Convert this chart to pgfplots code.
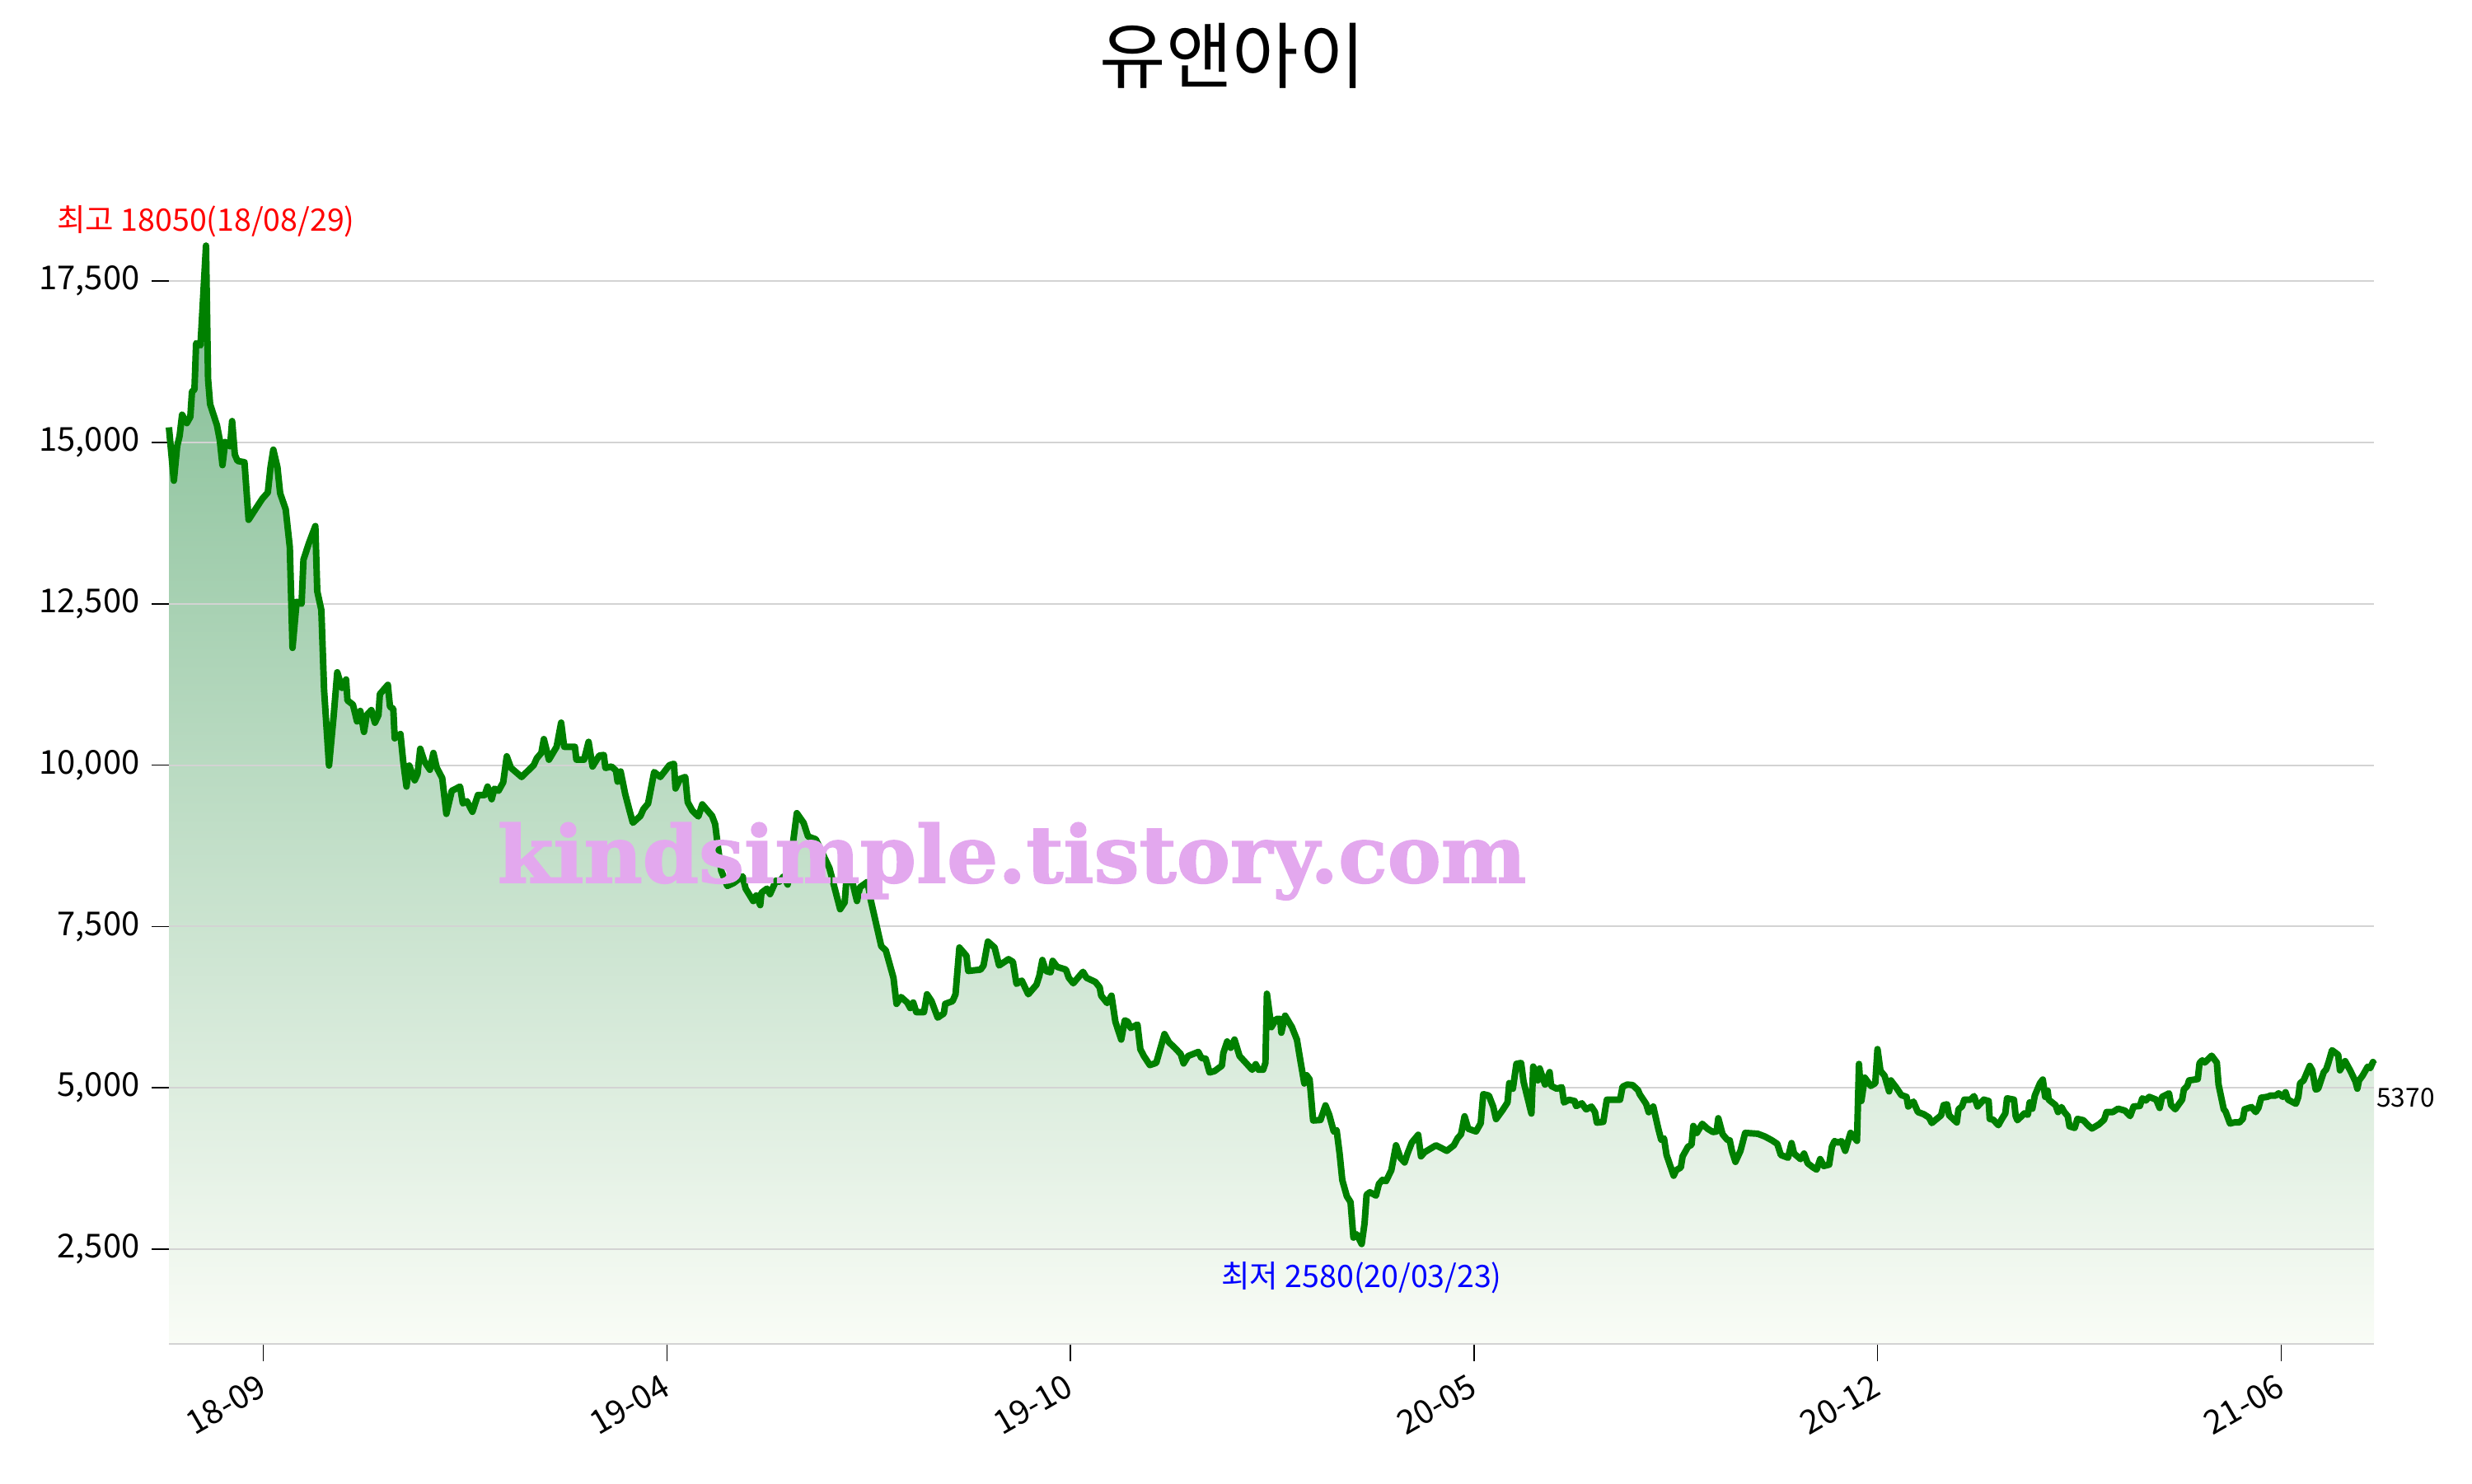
\documentclass[border=0pt]{standalone}
\usepackage{pgfplots}
\pgfplotsset{compat=1.18}
\usepackage{pgfplotstable}
\usepackage{fontspec}
\setmainfont{Noto Sans CJK KR}
\newfontfamily\wmfont[FakeBold=1.6]{DejaVu Serif Bold}
\definecolor{lg}{RGB}{0,128,0}
\definecolor{gridc}{RGB}{211,211,211}
\definecolor{wm}{RGB}{227,168,238}
\definecolor{ftop}{RGB}{128,188,146}
\definecolor{fbot}{RGB}{249,252,246}
\pgfplotstableread{
x y
205 15235
211 14408
215 14942
218 15104
221 15430
226.7 15300
231 15397
233 15788
236 15820
238 16537
243.3 16504
250 18050
252.5 15983
255 15593
263.3 15267
266.7 15039
270 14649
273.3 15007
279.3 14942
281.7 15332
285 14811
288.3 14714
296.7 14694
301.7 13802
308.3 13933
318.3 14128
325 14225
328.3 14616
331.7 14889
336.7 14616
340 14213
346.7 13965
351.7 13379
355 11817
360 12533
366 12500
368.3 13184
375 13444
382.7 13705
385 12696
390 12403
393.3 11166
399.3 9994
405 10775
409.3 11439
415 11198
420 11328
421.7 11003
428.3 10938
433.3 10678
437.3 10840
441.7 10515
445 10775
450.7 10853
455 10658
459.3 10775
461 11101
470.7 11244
473.3 10905
477.3 10873
479 10417
486 10482
489.3 10059
493.3 9668
496.7 9994
503.3 9766
506.7 9864
510 10254
515 10059
521.7 9929
526 10189
530 9962
536.7 9799
541.7 9245
548.3 9603
558.3 9668
561.7 9408
566.7 9441
573.3 9278
580 9538
588.3 9538
591.7 9668
596.7 9473
600 9636
605 9603
610.7 9734
615 10137
620 9960
633 9817
647.7 10000
651.4 10106
657 10191
660 10404
666.2 10085
675.5 10285
681 10659
684.7 10285
697.7 10285
699.5 10085
708.8 10085
714.3 10361
719.1 9979
727.3 10149
732.8 10157
734.7 9957
742.1 9979
747.6 9915
749.5 9745
753.2 9902
758.7 9554
763.5 9320
768 9107
777.2 9213
780.9 9320
786.5 9405
793.9 9894
801.3 9817
812.4 10000
817.9 10021
819.8 9639
825.3 9787
831.6 9817
834.6 9426
840.1 9298
847.5 9205
852.3 9392
864.2 9213
867.9 9086
871.6 8703
875.3 8363
882.7 8129
890.1 8172
901.2 8278
904.9 8087
914.1 7895
917.8 7980
922.6 7831
924.1 8023
930.8 8087
934.5 8002
941.9 8214
945.6 8193
951.1 8278
955.9 8150
967 9256
975.2 9107
980.7 8894
990 8852
1006.6 8405
1019.6 7768
1025.1 7874
1027 8193
1034.3 8193
1040 7895
1043.6 8108
1052.9 8193
1056.6 7917
1069.5 7194
1075 7130
1084.3 6705
1088 6301
1093.5 6407
1101 6322
1104.7 6237
1108.3 6322
1112 6173
1121.3 6173
1125 6450
1130.5 6343
1138 6088
1145.4 6152
1147.1 6301
1156 6343
1159.6 6450
1164.3 7173
1172.9 7045
1175 6811
1190 6832
1193.6 6896
1198.9 7266
1207.1 7173
1212.5 6896
1223.9 6994
1229.3 6951
1233.6 6611
1240 6662
1247.9 6450
1257.9 6599
1261.4 6739
1265 6981
1269.3 6811
1275 6790
1277.5 6968
1282.9 6875
1293.6 6832
1297.1 6705
1302.5 6620
1314.3 6798
1318.6 6705
1329.3 6641
1334.6 6556
1336.4 6428
1343.6 6314
1348.9 6428
1353.6 6025
1360.7 5748
1365 6046
1368.6 6025
1372.1 5927
1380.4 5982
1383.9 5599
1388.2 5493
1395.4 5353
1403.2 5387
1413.2 5833
1418.6 5706
1425.7 5621
1432.9 5523
1436.4 5378
1441.8 5493
1454.3 5557
1457.9 5463
1463.2 5451
1467.9 5238
1473.9 5259
1482.9 5344
1484.6 5540
1489.3 5718
1493.6 5621
1498.2 5748
1504.3 5493
1511.4 5395
1519.6 5280
1523.9 5366
1527.5 5280
1532.9 5280
1535.7 5387
1537.5 6458
1542.9 5940
1548.9 6067
1553.6 6067
1555 5854
1559.6 6118
1567.9 5940
1573.9 5748
1578.6 5387
1582.9 5068
1585.7 5195
1589.3 5132
1593.6 4494
1602.5 4502
1608.6 4728
1613.2 4579
1618.6 4324
1622.1 4345
1625.7 3984
1629 3570
1634.5 3320
1639 3230
1642.5 2680
1646.5 2730
1652.5 2580
1656 2900
1658.5 3345
1662.5 3382
1669.9 3330
1673.4 3510
1677.7 3574
1682 3553
1688.5 3724
1694.2 4110
1699.4 3917
1704.6 3844
1708.1 3981
1713.3 4152
1721.1 4272
1724.5 3938
1728.9 4003
1742.7 4110
1755.8 4024
1764.4 4110
1768.8 4217
1773.1 4281
1777.4 4559
1781.8 4366
1791.3 4324
1797 4452
1800 4902
1806.9 4880
1812.1 4709
1815.6 4516
1823 4645
1829.5 4773
1831.6 5073
1836 4987
1840.3 5372
1846 5385
1849 5094
1858.5 4602
1860.7 5330
1866.3 5116
1868.5 5300
1875 5051
1880.6 5244
1882.4 5030
1889.3 4987
1895.4 5009
1898 4773
1904.1 4816
1911 4795
1912.7 4717
1919.7 4760
1924.9 4666
1931.4 4709
1935.7 4623
1937.9 4461
1945.7 4473
1950 4816
1966.1 4816
1969.1 5017
1974.8 5051
1981.3 5043
1987.8 4966
1989.9 4902
1997.7 4752
2000.8 4623
2006.4 4709
2012.5 4366
2016 4195
2019.4 4217
2022.5 3960
2031.1 3639
2034.2 3724
2039.8 3767
2042 3938
2048.5 4088
2052.8 4118
2055 4409
2059.3 4302
2065.8 4443
2072.3 4366
2078.8 4315
2083.2 4324
2085.3 4529
2090.5 4281
2096.2 4195
2099.2 4187
2101.8 4024
2106.1 3853
2112.2 4024
2117.9 4302
2133 4289
2141.7 4247
2150.4 4187
2156.9 4131
2161.2 3960
2165.6 3938
2169.9 3917
2174.2 4144
2177.3 3981
2185.1 3896
2189.4 3981
2193.8 3831
2200.3 3767
2204.6 3733
2209 3896
2213.3 3789
2219.8 3810
2223.2 4088
2226.3 4174
2230.6 4152
2234.9 4174
2239.3 4024
2245.8 4302
2253.6 4179
2256 5370
2258.9 4796
2263.1 5157
2270.3 5030
2275.8 5072
2278.5 5600
2282.1 5264
2287.1 5187
2292.6 4945
2294.7 5115
2301 5009
2307.3 4889
2313.7 4860
2315.8 4711
2322.1 4787
2327.5 4625
2334.7 4591
2341 4540
2344.4 4455
2355.7 4574
2358.7 4732
2362.9 4745
2365.4 4574
2374.7 4464
2376.8 4668
2381 4711
2383.9 4817
2391.5 4817
2395.7 4872
2399.9 4711
2407.5 4817
2413.4 4796
2414.7 4519
2418.9 4506
2425.2 4421
2429.4 4519
2433.6 4604
2435.7 4838
2444.1 4817
2446.2 4562
2448.3 4498
2456.7 4604
2461 4583
2463.1 4774
2466.4 4677
2469.4 4881
2475.7 5072
2479.1 5128
2482 4860
2485 4957
2486.2 4817
2494.6 4732
2497.6 4625
2501.8 4702
2505.2 4625
2509.4 4562
2511.5 4404
2517.8 4379
2521.1 4519
2528.3 4498
2534.6 4413
2538.8 4370
2547.2 4434
2553.5 4506
2556.5 4625
2564.1 4625
2570.4 4677
2578.8 4647
2585.1 4562
2589.3 4711
2596.9 4719
2599.9 4838
2604.1 4804
2608.3 4860
2616.7 4817
2620.9 4689
2623.8 4860
2632.3 4915
2634.8 4732
2639.8 4668
2648.2 4817
2650.3 4974
2654.5 5030
2656.6 5115
2667.2 5136
2669.3 5383
2672.7 5426
2675.6 5392
2684 5498
2690.3 5392
2692.4 5051
2698.7 4668
2700.9 4634
2706.3 4447
2711.4 4464
2717.7 4464
2721.9 4519
2724 4668
2732.4 4702
2737.5 4625
2740.8 4689
2744.2 4847
2751.4 4860
2755.6 4881
2761.9 4881
2765.2 4915
2770.3 4860
2773.7 4932
2776.6 4817
2786.3 4753
2789.2 4860
2791.4 5072
2795.6 5115
2803.1 5340
2806.1 5272
2810.3 4974
2813.3 4987
2820 5243
2823 5285
2825.8 5392
2830.1 5583
2837.6 5511
2839.7 5272
2846 5413
2852.4 5264
2858.7 5094
2860.8 4987
2862.9 5115
2867.1 5187
2873.4 5328
2876.4 5306
2879.8 5400
2881 5370
}\pricedata
\begin{document}
\begin{tikzpicture}
\begin{axis}[
  set layers,
  at={(0,0)}, anchor=south west,
  scale only axis, width=642.24bp, height=336.84bp,
  xmin=205, xmax=2881, ymin=1032, ymax=18952,
  axis x line*=bottom, axis y line*=left,
  x axis line style={draw=gridc, line width=0.7bp, -},
  y axis line style={draw=none, -},
  tick align=outside, major tick length=5bp,
  tick style={black, line width=0.35bp},
  xtick={319.5,809.3,1299.1,1788.9,2278.7,2768.5},
  xticklabels={18-09,19-04,19-10,20-05,20-12,21-06},
  ytick={2500,5000,7500,10000,12500,15000,17500},
  scaled y ticks=false,
  yticklabel={\pgfmathprintnumber[fixed, precision=0, 1000 sep={,}, assume math mode=true]{\tick}},
  ymajorgrids,
  grid style={draw=gridc, line width=0.5bp},
  /pgf/number format/assume math mode=true,
  yticklabel style={font=\fontsize{9.6bp}{11bp}\selectfont},
  xticklabel style={font=\fontsize{9.6bp}{11bp}\selectfont, rotate=30, anchor=north east, yshift=1.5bp},
  clip=false,
]
\addplot[on layer=axis background, draw=none, top color=ftop, bottom color=fbot]
  table {\pricedata} -- (axis cs:2881,1032) -- (axis cs:205,1032) -- cycle;
\addplot[color=lg, line width=1.9bp, line join=round, no markers] table {\pricedata};
\node[anchor=base, text=red, font=\fontsize{9bp}{11bp}\selectfont, yshift=4.2bp] at (axis cs:250,18050) {최고 18050(18/08/29)};
\node[anchor=base, text=blue, font=\fontsize{9bp}{11bp}\selectfont, yshift=-12.6bp] at (axis cs:1652.5,2580) {최저 2580(20/03/23)};
\node[anchor=base west, inner sep=0pt, font=\fontsize{7.6bp}{9bp}\selectfont, yshift=-12.6bp, xshift=0.6bp] at (axis cs:2881,5370) {5370};
\end{axis}
\node[anchor=base west, inner sep=0pt, text=wm, xscale=1.02, font=\wmfont\fontsize{23bp}{27bp}\selectfont] at (95.5bp,134.4bp) {kindsimple.tistory.com};
\node[anchor=base, inner sep=0pt, font=\fontsize{21bp}{25bp}\selectfont] at (309.8bp,367.4bp) {유앤아이};
\path (-49.2bp,-40.56bp) rectangle (670.8bp,391.44bp);
\end{tikzpicture}
\end{document}
